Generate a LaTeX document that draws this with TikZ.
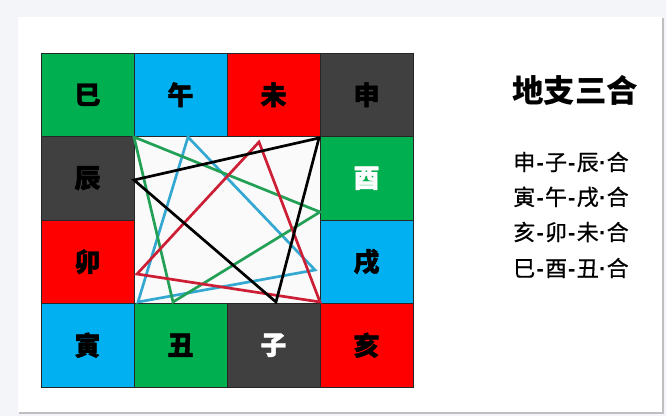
\documentclass[tikz,border=0pt]{standalone}
\usepackage{fontspec}
\newfontfamily\cjk{Noto Sans CJK SC}
\newfontfamily\cjkm[FakeBold=0.7]{Noto Sans CJK SC}
\newfontfamily\cjkh[FakeBold=1.6]{Noto Sans CJK SC}
\newfontfamily\latb{Liberation Sans}
\newcommand\hy{{\latb\bfseries\kern1.2pt-\kern1.2pt}}
\newcommand\md{{\latb\bfseries\kern0.3pt\textperiodcentered\kern0.3pt}}
\definecolor{cgreen}{HTML}{00B050}
\definecolor{cblue}{HTML}{00B0F0}
\definecolor{cred}{HTML}{FF0000}
\definecolor{cgray}{HTML}{404040}
\definecolor{lgreen}{HTML}{22A055}
\definecolor{lblue}{HTML}{35A8D2}
\definecolor{lred}{HTML}{CC1F35}
\definecolor{pagebg}{HTML}{F3F5F8}
\begin{document}
\begin{tikzpicture}[x=1pt,y=-1pt,
  cell/.style={draw=black!85, line width=0.7pt, minimum width=93pt, minimum height=83.5pt, inner sep=0pt, text=black,
    font=\cjkh\bfseries\fontsize{26}{26}\selectfont},
  tri/.style={line width=2.7pt, line join=miter},
  rule/.style={font=\cjkm\fontsize{22}{22}\selectfont, anchor=center}]
\useasboundingbox (0,0) rectangle (666,416);
\fill[pagebg] (0,0) rectangle (666,416);
\fill[black!25] (19,18) rectangle (664,414);
\fill[white] (18,17) rectangle (662,412);
\fill[black!2] (134,136.5) rectangle (320,303.5);
% cells
\node[cell, fill=cgreen] (si) at (87.5,94.75) {巳};
\node[cell, fill=cblue] (wu) at (180.5,94.75) {午};
\node[cell, fill=cred] (wei) at (273.5,94.75) {未};
\node[cell, fill=cgray] (shen) at (366.5,94.75) {申};
\node[cell, fill=cgray] (chen) at (87.5,178.25) {辰};
\node[cell, fill=cgreen, text=white] (you) at (366.5,178.25) {酉};
\node[cell, fill=cred] (mao) at (87.5,261.75) {卯};
\node[cell, fill=cblue] (xu) at (366.5,261.75) {戌};
\node[cell, fill=cblue] (yin) at (87.5,345.25) {寅};
\node[cell, fill=cgreen] (chou) at (180.5,345.25) {丑};
\node[cell, fill=cgray, text=white] (zi) at (273.5,345.25) {子};
\node[cell, fill=cred] (hai) at (366.5,345.25) {亥};
% triangle vertices
\coordinate (kA) at (319,138);
\coordinate (kB) at (134,180);
\coordinate (kC) at (276,302);
\coordinate (rA) at (259,142);
\coordinate (rB) at (137,274);
\coordinate (rC) at (320,302);
\coordinate (bA) at (188,137);
\coordinate (bB) at (138,302);
\coordinate (bC) at (315,270);
\coordinate (gA) at (134,137);
\coordinate (gB) at (320,212);
\coordinate (gC) at (173,302);
\draw[tri, lblue] (bA) -- (bB) -- (bC) -- cycle;
\draw[tri, lgreen] (gA) -- (gB) -- (gC) -- cycle;
\draw[tri, lred] (rA) -- (rB) -- (rC) -- cycle;
\draw[tri, black] (kA) -- (kB) -- (kC) -- cycle;
% text
\node[font=\cjk\bfseries\fontsize{31.5}{31.5}\selectfont] (title) at (575,90) {地支三合};
\node[rule] (r1) at (571,162) {申\hy 子\hy 辰\md 合};
\node[rule] (r2) at (571,197) {寅\hy 午\hy 戌\md 合};
\node[rule] (r3) at (571,232) {亥\hy 卯\hy 未\md 合};
\node[rule] (r4) at (571,268) {巳\hy 酉\hy 丑\md 合};
\end{tikzpicture}
\end{document}
